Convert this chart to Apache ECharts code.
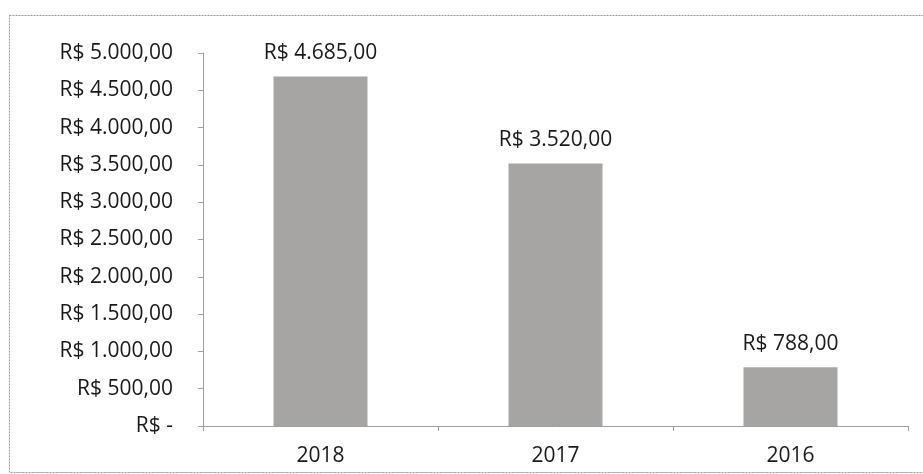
<!DOCTYPE html>
<html><head><meta charset="utf-8">
<script src="https://cdn.jsdelivr.net/npm/echarts@6/dist/echarts.min.js"></script>
<style>html,body{margin:0;padding:0;background:#fff}#c{width:923px;height:474px}</style>
</head><body><div id="c"></div>
<script>
const categories = ['2018', '2017', '2016'];
const values = [4685, 3520, 788];
const yMax = 5000;
const yInterval = 500;

function brl(v) {
  if (v === 0) return 'R$ -';
  return 'R$ ' + v.toLocaleString('pt-BR', {minimumFractionDigits: 2, maximumFractionDigits: 2});
}
const FONT = '"Open Sans", sans-serif';
const FS = 21;
const chart = echarts.init(document.getElementById('c'));
chart.setOption({
  animation: false,
  backgroundColor: '#fff',
  graphic: [{
    type: 'rect', shape: {x: 9.5, y: 15.5, width: 940, height: 457},
    style: {fill: 'none', stroke: '#9a9a9a', lineWidth: 1, lineDash: [2, 1]}
  }],
  grid: {left: 203, right: 15, top: 53, bottom: 48},
  xAxis: {
    type: 'category', data: categories,
    axisLine: {lineStyle: {color: '#a0a0a0'}},
    axisTick: {show: true, length: 5, lineStyle: {color: '#a0a0a0'}},
    axisLabel: {fontFamily: FONT, fontSize: FS, color: '#1a1a1a', margin: 20}
  },
  yAxis: {
    type: 'value', min: 0, max: yMax, interval: yInterval,
    splitLine: {show: false},
    axisLine: {show: true, lineStyle: {color: '#a0a0a0'}},
    axisTick: {show: true, length: 5, lineStyle: {color: '#a0a0a0'}},
    axisLabel: {fontFamily: FONT, fontSize: FS, color: '#1a1a1a', margin: 30, formatter: brl}
  },
  series: [{
    type: 'bar', data: values, barWidth: '40%',
    itemStyle: {color: '#a7a5a4'},
    label: {show: true, position: 'top', distance: 13, fontFamily: FONT, fontSize: FS, color: '#1a1a1a',
      formatter: p => brl(p.value)}
  }]
});
</script></body></html>
